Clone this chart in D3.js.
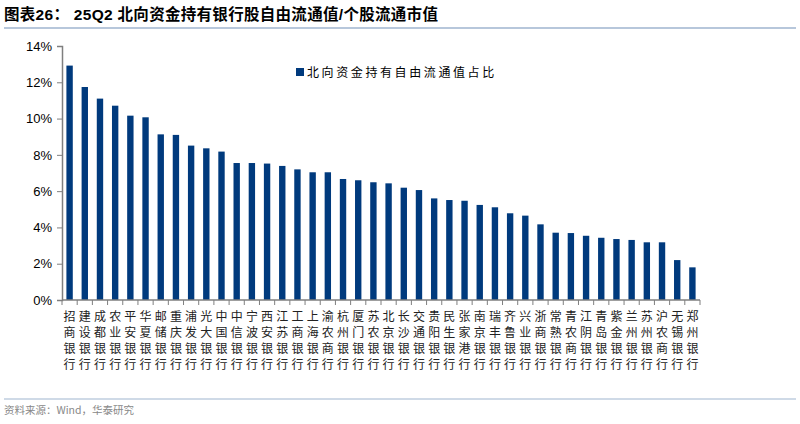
<!DOCTYPE html>
<html><head><meta charset="utf-8">
<script src="https://cdn.jsdelivr.net/npm/d3@7"></script>
<style>body{margin:0;background:#fff;} svg{display:block;}</style>
</head><body>
<svg id="c" width="800" height="424"></svg>
<script>
const categories = ["招商银行","建设银行","成都银行","农业银行","平安银行","华夏银行","邮储银行","重庆银行","浦发银行","光大银行","中国银行","中信银行","宁波银行","西安银行","江苏银行","工商银行","上海银行","渝农商行","杭州银行","厦门银行","苏农银行","北京银行","长沙银行","交通银行","贵阳银行","民生银行","张家港行","南京银行","瑞丰银行","齐鲁银行","兴业银行","浙商银行","常熟银行","青农商行","江阴银行","青岛银行","紫金银行","兰州银行","苏州银行","沪农商行","无锡银行","郑州银行"];
const values = [12.92,11.74,11.1,10.71,10.16,10.07,9.13,9.1,8.51,8.36,8.18,7.55,7.55,7.52,7.39,7.2,7.04,7.04,6.67,6.6,6.49,6.43,6.19,6.06,5.6,5.51,5.47,5.24,5.11,4.78,4.65,4.17,3.71,3.69,3.54,3.43,3.36,3.31,3.18,3.18,2.2,1.8];
const yTicks = [0,2,4,6,8,10,12,14];
const seriesName = "北向资金持有自由流通值占比";
const title = "图表26：  25Q2 北向资金持有银行股自由流通值/个股流通市值";
const source = "资料来源：Wind，华泰研究";

const svg = d3.select("#c");
const L = 62, R = 700, T = 46, B = 300;
const x = d3.scaleBand().domain(categories).range([L, R]).paddingInner(0.58).paddingOuter(0.29);
const y = d3.scaleLinear().domain([0, 14]).range([B, T]);
const color = "#003a7d";
const cjk = "'Noto Sans CJK SC', sans-serif";

// title
svg.append("text").attr("x", 4).attr("y", 20).attr("font-family", "'Liberation Sans', " + cjk)
  .attr("font-size", 15.5).attr("font-weight", "bold").attr("letter-spacing", 0.3).attr("fill", "#000").text(title);
svg.append("line").attr("x1", 4).attr("x2", 796).attr("y1", 28).attr("y2", 28).attr("stroke", "#9fb5cf").attr("stroke-width", 1.5);

// bars
svg.append("g").selectAll("rect").data(values).join("rect")
  .attr("x", (d, i) => x(categories[i]))
  .attr("width", x.bandwidth())
  .attr("y", d => y(d))
  .attr("height", d => B - y(d))
  .attr("fill", color);

// y axis
const ya = svg.append("g").attr("transform", `translate(${L},0)`)
  .call(d3.axisLeft(y).tickValues(yTicks).tickFormat(d => d + "%").tickSize(5).tickPadding(5));
ya.select(".domain").attr("stroke", "#7f7f7f").attr("stroke-width", 1.5);
ya.selectAll(".tick line").attr("stroke", "#7f7f7f");
ya.selectAll("text").attr("font-family", "'Liberation Sans', Arial, sans-serif").attr("font-size", 13).attr("fill", "#000");

// x axis
const xa = svg.append("g");
xa.append("line").attr("x1", L).attr("x2", R).attr("y1", B).attr("y2", B).attr("stroke", "#7f7f7f").attr("stroke-width", 1.5);
xa.selectAll("line.t").data(d3.range(categories.length + 1)).join("line").attr("class", "t")
  .attr("x1", i => L + (R - L) * i / categories.length).attr("x2", i => L + (R - L) * i / categories.length)
  .attr("y1", B).attr("y2", B + 5).attr("stroke", "#7f7f7f");
const lab = xa.selectAll("g.lab").data(categories).join("g").attr("class", "lab")
  .attr("transform", d => `translate(${x(d) + x.bandwidth() / 2},0)`);
lab.each(function (d) {
  const g = d3.select(this);
  Array.from(d).forEach((ch, k) => {
    g.append("text").attr("x", 0).attr("y", 321 + k * 16).attr("text-anchor", "middle")
      .attr("font-family", cjk).attr("font-size", 12).attr("fill", "#222").text(ch);
  });
});

// legend
svg.append("rect").attr("x", 296).attr("y", 68).attr("width", 8).attr("height", 8).attr("fill", color);
svg.append("text").attr("x", 307).attr("y", 77).attr("font-family", cjk).attr("font-size", 12).attr("letter-spacing", 2.6).attr("fill", "#000").text(seriesName);

// footer
svg.append("line").attr("x1", 4).attr("x2", 796).attr("y1", 399).attr("y2", 399).attr("stroke", "#9fb5cf").attr("stroke-width", 1.2);
svg.append("text").attr("x", 4).attr("y", 414).attr("font-family", cjk).attr("font-size", 10.5).attr("fill", "#888").text(source);
</script>
</body></html>
